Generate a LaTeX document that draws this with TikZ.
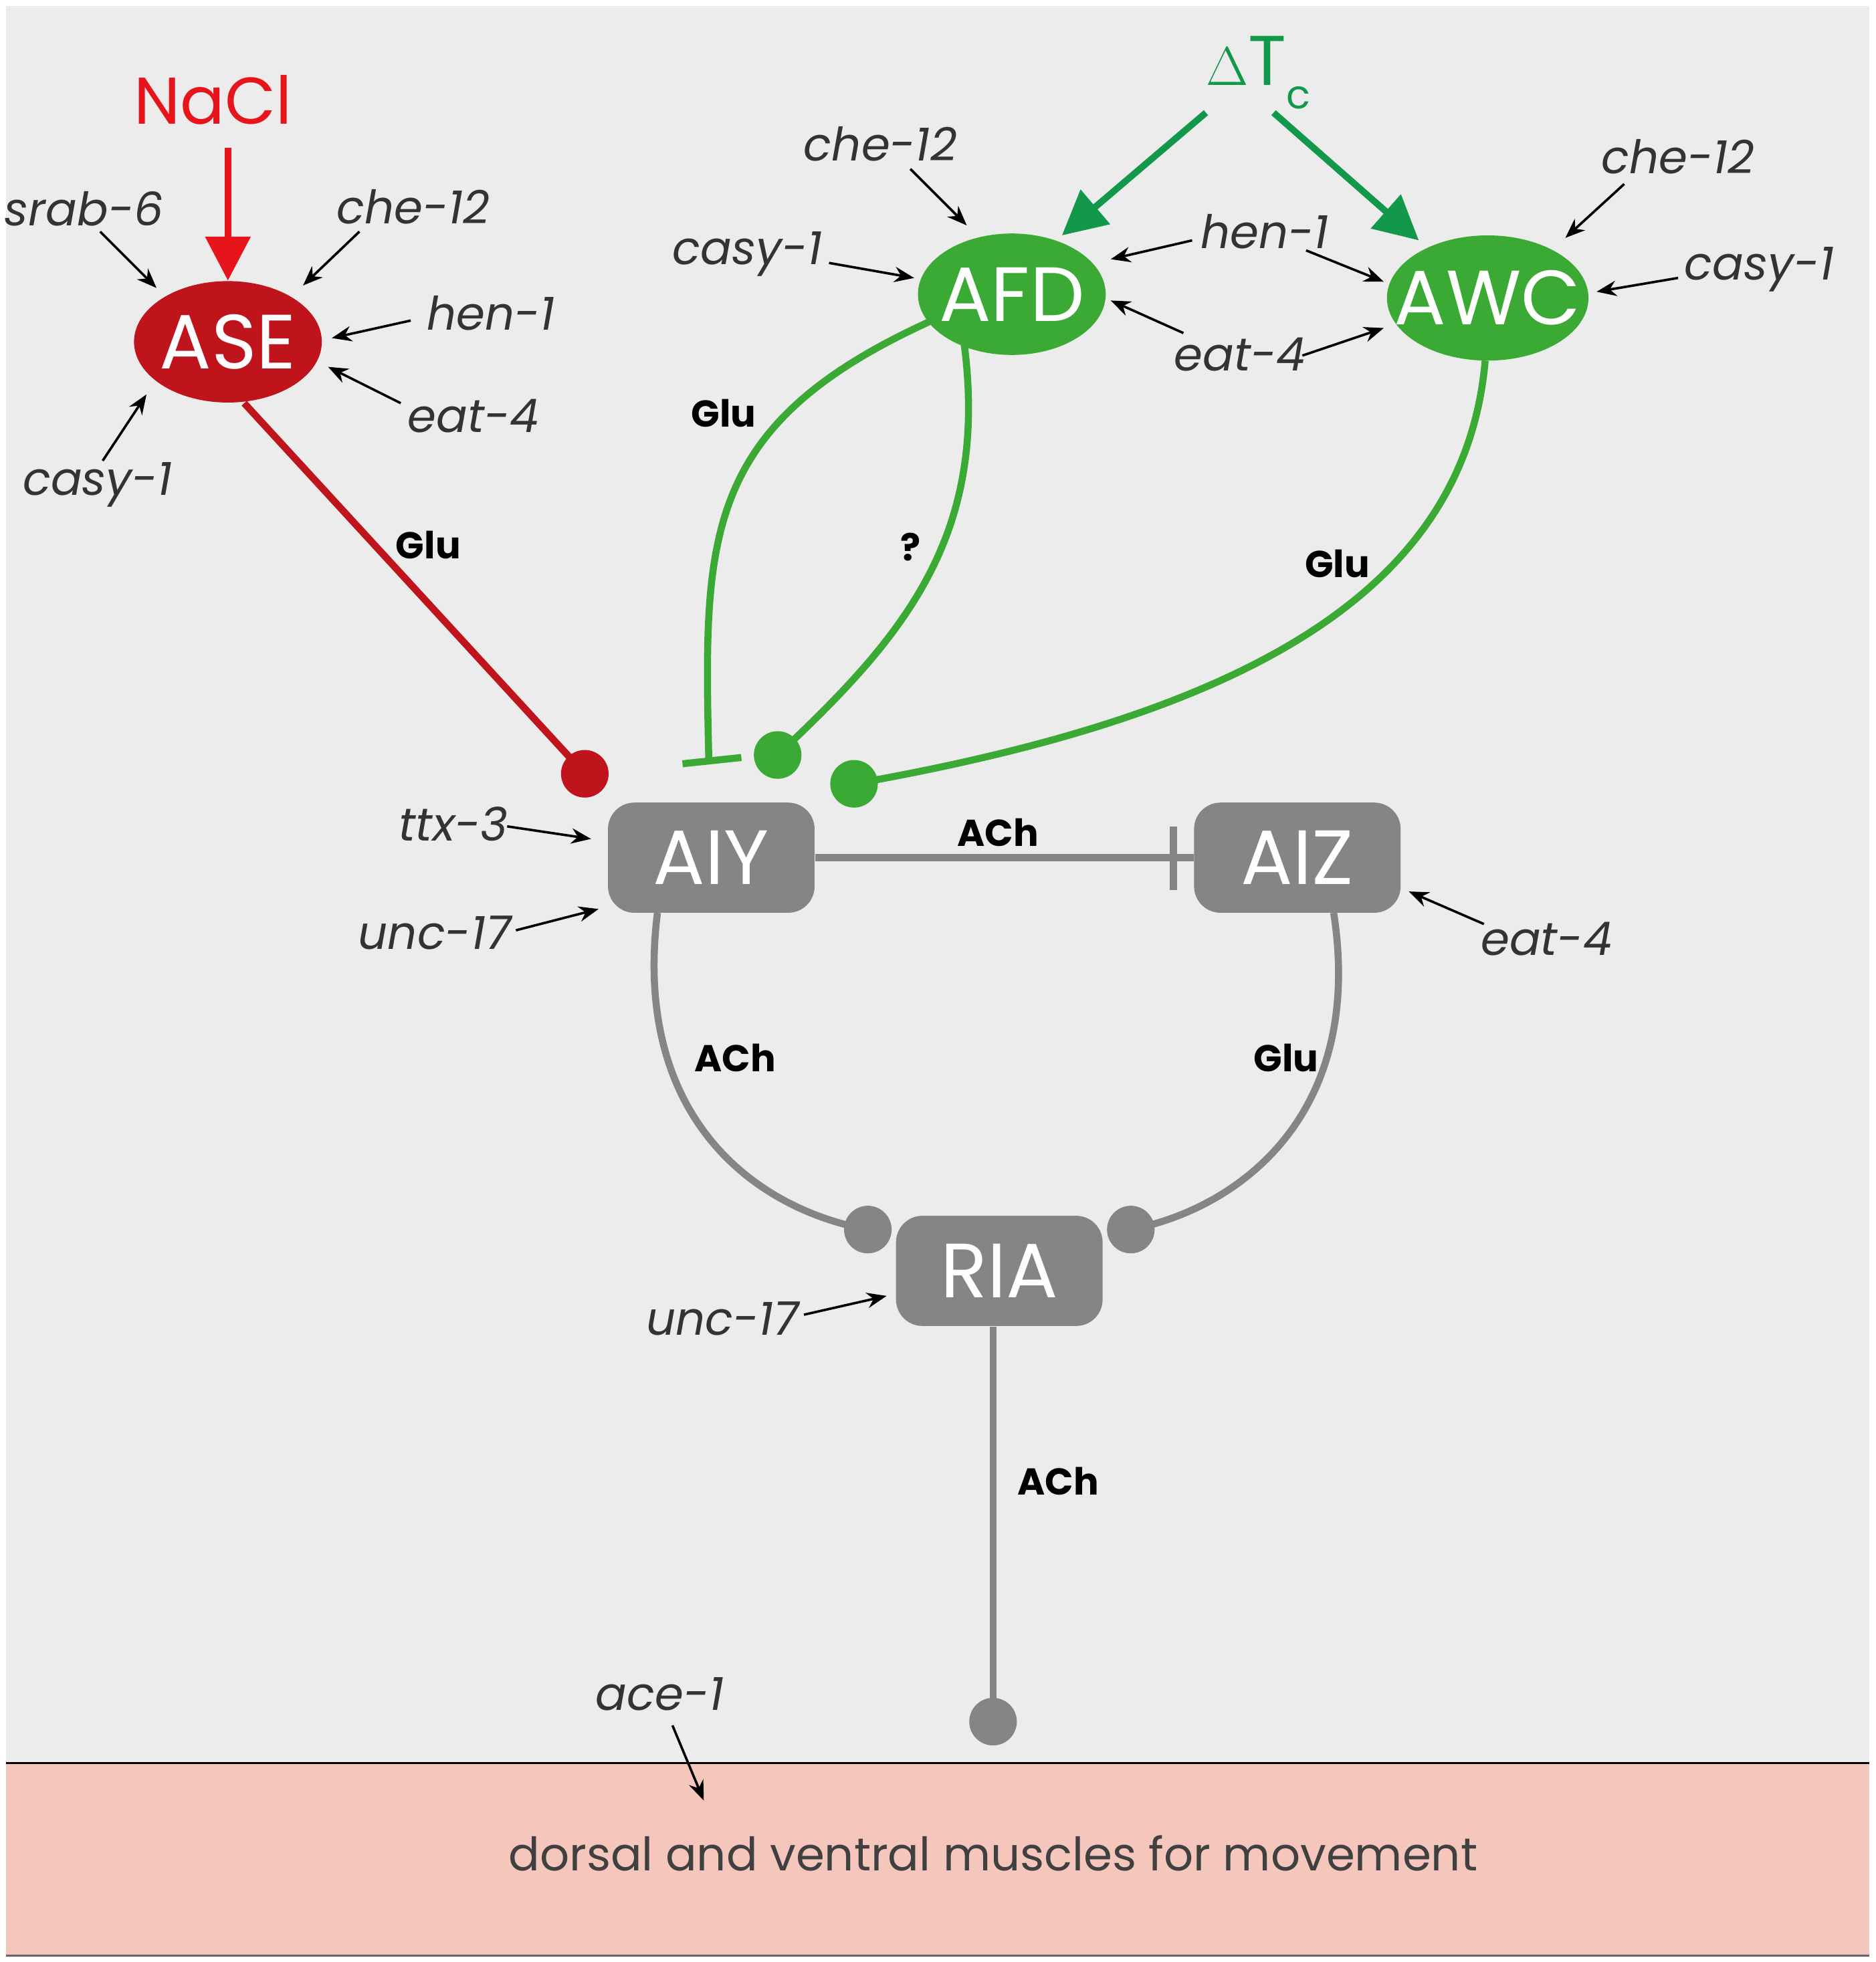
\documentclass[tikz,border=0pt]{standalone}
\usepackage{fontspec}
\setmainfont{Poppins}
\usetikzlibrary{arrows.meta,shapes.geometric}
\definecolor{bg}{HTML}{ECECEC}
\definecolor{pinkb}{HTML}{F4C6BC}
\definecolor{ared}{HTML}{C0141C}
\definecolor{nred}{HTML}{E8141C}
\definecolor{agreen}{HTML}{3AAA35}
\definecolor{dgreen}{HTML}{12984A}
\definecolor{agray}{HTML}{858585}
\begin{document}
\begin{tikzpicture}[x=0.02cm,y=-0.02cm,
  ell/.style={ellipse,inner xsep=-10pt,inner ysep=0pt,text=white,font=\fontsize{35}{35}\selectfont},
  box/.style={rectangle,rounded corners=12pt,fill=agray,text=white,minimum width=3.3cm,minimum height=1.76cm,inner sep=0pt,font=\fontsize{35}{35}\selectfont},
  gene/.style={font=\fontsize{21}{21}\selectfont\itshape,text=black!80,inner sep=1pt},
  tx/.style={font=\fontsize{17}{17}\selectfont\bfseries,inner sep=1pt},
  ga/.style={-{Stealth[length=9pt,width=7pt]},line width=1.1pt,black},
  rl/.style={line width=3.2pt,ared},
  gl/.style={line width=3.2pt,agreen},
  gy/.style={line width=3.2pt,agray}]
\useasboundingbox (0,0) rectangle (1498,1567);
\fill[bg] (5,5) rectangle (1493,1408);
\fill[pinkb] (5,1408) rectangle (1493,1562);
\draw[line width=1pt] (5,1408) -- (1493,1408);
\draw[line width=1pt,black!60] (5,1562) -- (1493,1562);
% neurons
\node[ell,fill=ared,minimum width=3cm,minimum height=1.94cm] (ASE) at (182,273) {ASE};
\node[ell,fill=agreen,minimum width=3cm,minimum height=1.94cm] (AFD) at (808,235) {AFD};
\node[ell,fill=agreen,minimum width=3cm,minimum height=2cm] (AWC) at (1188,238) {AWC};
\node[box] (AIY) at (568,685) {AIY};
\node[box] (AIZ) at (1036,685) {AIZ};
\node[box] (RIA) at (798,1015) {RIA};
% stimuli
\node[text=nred,font=\fontsize{30}{30}\selectfont] (nacl) at (170,80) {NaCl};
\draw[nred,line width=3pt,-{Triangle[length=20pt,width=20pt]}] (nacl.south -| ASE.north) ++(0,12) coordinate (n1) -- (ASE.north);
\node[text=dgreen,font=\fontsize{32}{32}\selectfont] (dt) at (1005,58) {$\Delta$T\raisebox{-0.6ex}{\fontsize{18}{18}\selectfont c}};
\coordinate (d1) at (963,90); \coordinate (d2) at (1017,90);
\coordinate (d1e) at (848,188); \coordinate (d2e) at (1133,192);
\draw[dgreen,line width=3pt,-{Triangle[length=20pt,width=20pt]}] (d1) -- (d1e);
\draw[dgreen,line width=3pt,-{Triangle[length=20pt,width=20pt]}] (d2) -- (d2e);
% synapse ends
\coordinate (rdot) at (467,618);
\coordinate (g1) at (621,603);
\coordinate (g2) at (682,626);
\coordinate (bar) at (566,606);
\coordinate (sdot1) at (693,982);
\coordinate (sdot2) at (903,982);
\coordinate (mdot) at (793,1375);
% connections
\draw[rl] (195,322) -- (rdot);
\fill[ared] (rdot) circle (19);
\draw[gl] (742,257) .. controls (560,340) and (562,430) .. (bar);
\draw[gl] (545,610) -- (592,605);
\draw[gl] (770,275) .. controls (790,430) and (720,510) .. (g1);
\fill[agreen] (g1) circle (19);
\draw[gl] (1186,288) .. controls (1170,470) and (1000,570) .. (g2);
\fill[agreen] (g2) circle (19);
\draw[gy] (AIY.east) -- (AIZ.west);
\draw[gy] (937,660) -- (937,711);
\draw[gy] (525,729) .. controls (505,890) and (600,965) .. (sdot1);
\fill[agray] (sdot1) circle (19);
\draw[gy] (1065,729) .. controls (1090,890) and (990,965) .. (sdot2);
\fill[agray] (sdot2) circle (19);
\draw[gy] (RIA.south -| mdot) -- (mdot);
\fill[agray] (mdot) circle (19);
% transmitter labels
\node[tx] at (342,435) {Glu};
\node[tx] at (578,330) {Glu};
\node[tx] at (727,437) {?};
\node[tx] at (1068,450) {Glu};
\node[tx] at (797,665) {ACh};
\node[tx] at (587,845) {ACh};
\node[tx] at (1027,845) {Glu};
\node[tx] at (845,1183) {ACh};
% genes
\node[gene] (s6) at (67,167) {srab-6}; \coordinate (s6e) at (125,230);
\draw[ga] (80,185) -- (s6e);
\node[gene] (c12a) at (330,165) {che-12}; \coordinate (c12ae) at (242,228);
\draw[ga] (287,185) -- (c12ae);
\node[gene] (h1a) at (392,250) {hen-1}; \coordinate (h1ae) at (265,270);
\draw[ga] (328,256) -- (h1ae);
\node[gene] (e4a) at (378,332) {eat-4}; \coordinate (e4ae) at (262,293);
\draw[ga] (320,322) -- (e4ae);
\node[gene] (ca1) at (78,387) {casy-1}; \coordinate (ca1e) at (117,315);
\draw[ga] (82,368) -- (ca1e);
\node[gene] (c12b) at (703,115) {che-12}; \coordinate (c12be) at (772,180);
\draw[ga] (727,135) -- (c12be);
\node[gene] (ca2) at (597,203) {casy-1}; \coordinate (ca2e) at (730,222);
\draw[ga] (662,210) -- (ca2e);
\node[gene] (h1b) at (1010,185) {hen-1}; \coordinate (h1be1) at (887,207); \coordinate (h1be2) at (1105,225);
\draw[ga] (952,192) -- (h1be1);
\draw[ga] (1043,200) -- (h1be2);
\node[gene] (e4b) at (990,283) {eat-4}; \coordinate (e4be1) at (887,240); \coordinate (e4be2) at (1105,262);
\draw[ga] (945,266) -- (e4be1);
\draw[ga] (1040,284) -- (e4be2);
\node[gene] (c12c) at (1340,125) {che-12}; \coordinate (c12ce) at (1250,190);
\draw[ga] (1297,147) -- (c12ce);
\node[gene] (ca3) at (1405,215) {casy-1}; \coordinate (ca3e) at (1275,233);
\draw[ga] (1340,222) -- (ca3e);
\node[gene] (ttx) at (362,658) {ttx-3}; \coordinate (ttxe) at (472,670);
\draw[ga] (405,660) -- (ttxe);
\node[gene] (u1) at (347,745) {unc-17}; \coordinate (u1e) at (478,726);
\draw[ga] (412,743) -- (u1e);
\node[gene] (e4c) at (1235,750) {eat-4}; \coordinate (e4ce) at (1125,712);
\draw[ga] (1185,738) -- (e4ce);
\node[gene] (u2) at (577,1053) {unc-17}; \coordinate (u2e) at (708,1035);
\draw[ga] (642,1050) -- (u2e);
\node[gene] (ace) at (527,1353) {ace-1}; \coordinate (acee) at (562,1438);
\draw[ga] (537,1378) -- (acee);
\node[font=\fontsize{21}{21}\selectfont,text=black!75] (mus) at (793,1480) {dorsal and ventral muscles for movement};
\end{tikzpicture}
\end{document}
